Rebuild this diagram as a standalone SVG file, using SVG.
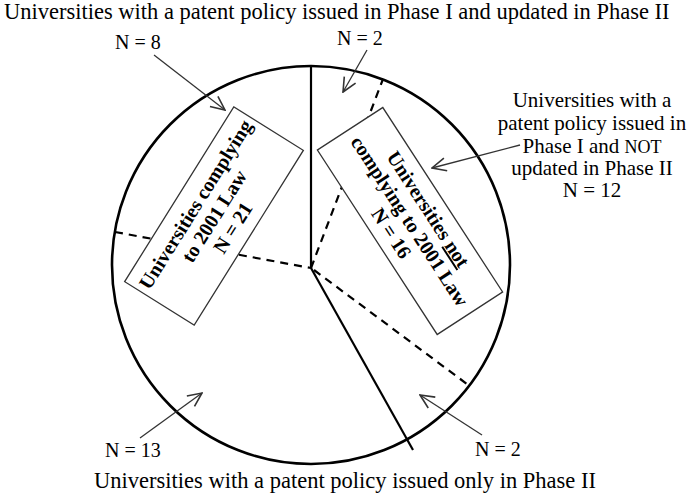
<svg xmlns="http://www.w3.org/2000/svg" width="690" height="496" viewBox="0 0 690 496">
<style>
.t{font-family:"Liberation Serif","Times New Roman",serif;font-size:20px;fill:#000}
.big{font-size:22.5px}
.lab{font-size:21px}
.b{font-family:"Liberation Serif","Times New Roman",serif;font-size:20px;font-weight:bold;fill:#000}
.solid{stroke:#000;stroke-width:2.2;fill:none}
.dash{stroke:#000;stroke-width:2.2;fill:none;stroke-dasharray:8 6}
.box{fill:#fff;stroke:#333;stroke-width:1.3}
.arr{stroke:#333;stroke-width:1.3;fill:none;marker-end:url(#ah)}
</style>
<defs>
<marker id="ah" markerUnits="userSpaceOnUse" markerWidth="16" markerHeight="16" viewBox="0 0 16 16" refX="15" refY="8" orient="auto">
<path d="M1,1.5 L15,8 L1,14.5" fill="none" stroke="#333" stroke-width="1.6"/>
</marker>
</defs>
<rect width="690" height="496" fill="#fff"/>
<g id="pie">
<circle cx="311" cy="265" r="199" fill="none" stroke="#000" stroke-width="2.6"/>
<line class="solid" x1="311" y1="66" x2="311" y2="268"/>
<line class="solid" x1="311" y1="268" x2="413" y2="450"/>
<line class="dash" x1="115" y1="232" x2="311" y2="268"/>
<line class="dash" x1="311" y1="268" x2="383" y2="79"/>
<line class="dash" x1="314" y1="270" x2="471" y2="387"/>
</g>
<g id="box-complying">
<g transform="translate(214,216) rotate(-58)">
<rect class="box" x="-103" y="-41" width="206" height="82"/>
<text class="b" text-anchor="middle" x="0" y="-15">Universities complying</text>
<text class="b" text-anchor="middle" x="0" y="7">to 2001 Law</text>
<text class="b" text-anchor="middle" x="0" y="29">N = 21</text>
</g>
</g>
<g id="box-not-complying">
<g transform="translate(410,221) rotate(57)">
<rect class="box" x="-110" y="-39" width="220" height="78"/>
<text class="b" text-anchor="middle" x="0" y="-15">Universities <tspan text-decoration="underline">not</tspan></text>
<text class="b" text-anchor="middle" x="0" y="7">complying to 2001 Law</text>
<text class="b" text-anchor="middle" x="0" y="29">N = 16</text>
</g>
</g>
<g id="label-top">
<text class="t big" x="4" y="19">Universities with a patent policy issued in Phase I and updated in Phase II</text>
<text class="t" x="115" y="49">N = 8</text>
</g>
<g id="label-n2-top">
<text class="t" x="337" y="45">N = 2</text>
</g>
<g id="label-right">
<text class="t lab" text-anchor="middle" x="592" y="107">Universities with a</text>
<text class="t lab" text-anchor="middle" x="592" y="130">patent policy issued in</text>
<text class="t lab" text-anchor="middle" x="592" y="153">Phase I and <tspan font-size="18">NOT</tspan></text>
<text class="t lab" text-anchor="middle" x="592" y="175">updated in Phase II</text>
<text class="t lab" text-anchor="middle" x="592" y="197">N = 12</text>
</g>
<g id="label-n2-bottom">
<text class="t" x="475" y="456">N = 2</text>
</g>
<g id="label-bottom">
<text class="t" x="105" y="457">N = 13</text>
<text class="t big" text-anchor="middle" x="345" y="488">Universities with a patent policy issued only in Phase II</text>
</g>
<g id="connectors">
<line class="arr" x1="154" y1="55" x2="225" y2="110"/>
<line class="arr" x1="367" y1="50" x2="343" y2="92"/>
<line class="arr" x1="520" y1="145" x2="432" y2="168"/>
<line class="arr" x1="482" y1="435" x2="420" y2="395"/>
<line class="arr" x1="140" y1="438" x2="202" y2="393"/>
</g>
</svg>
